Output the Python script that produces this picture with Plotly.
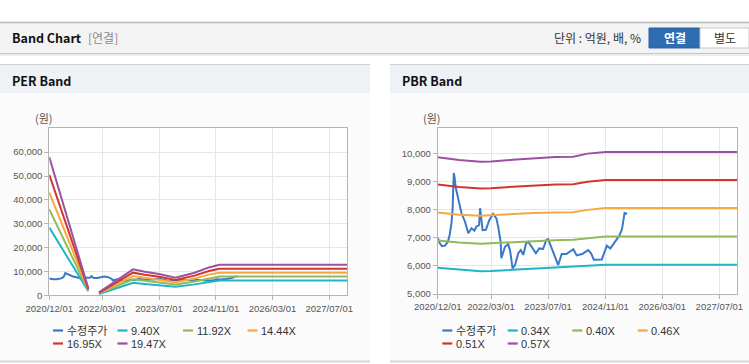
import plotly.graph_objects as go

W, H = 749, 364


def X(px):
    return px / W


def Y(py):
    return 1 - py / H


# ---------------- data ----------------
x_tick_vals = ['2020-12-01', '2022-03-01', '2023-07-01', '2024-11-01', '2026-03-01', '2027-07-01']
x_tick_text = ['2020/12/01', '2022/03/01', '2023/07/01', '2024/11/01', '2026/03/01', '2027/07/01']

price_name = '수정주가'
price_dates = ['2020-12-01', '2020-12-19', '2021-01-06', '2021-02-01', '2021-02-25', '2021-03-13', '2021-03-28',
               '2021-04-07', '2021-04-17', '2021-04-24', '2021-05-03', '2021-05-25', '2021-06-22', '2021-07-22',
               '2021-08-19', '2021-09-16', '2021-10-10', '2021-10-28', '2021-11-19', '2021-11-28', '2021-12-04',
               '2021-12-19', '2022-01-16', '2022-02-15', '2022-03-19', '2022-04-16', '2022-05-01', '2022-05-22',
               '2022-05-28', '2022-06-28', '2022-07-25', '2022-08-10', '2022-09-01', '2022-09-22', '2022-10-19',
               '2022-11-10', '2022-12-01', '2022-12-25', '2023-01-13', '2023-02-12', '2023-03-19', '2023-04-16',
               '2023-05-19', '2023-06-16', '2023-07-01', '2023-08-01', '2023-08-28', '2023-09-25', '2023-10-25',
               '2023-12-04', '2024-02-01', '2024-03-01', '2024-04-16', '2024-06-07', '2024-07-01', '2024-07-25',
               '2024-10-01', '2024-11-13', '2024-12-13', '2025-01-25', '2025-02-28', '2025-03-22', '2025-04-13',
               '2025-05-05']
price = [7000, 6800, 6700, 6720, 6850, 7100, 7500, 8000, 9300, 9150, 8800, 8340, 7870, 7570, 7160, 7340, 7250,
         7400, 7450, 8050, 7800, 7270, 7280, 7630, 7850, 7690, 7390, 6860, 6270, 6680, 6780, 6560, 5910, 6030,
         6450, 6560, 6390, 6800, 6860, 6660, 6450, 6620, 6600, 6920, 6950, 6620, 6330, 6030, 6420, 6420, 6590,
         6370, 6420, 6560, 6450, 6220, 6230, 6720, 6620, 6880, 7080, 7300, 7880, 7850]

per_names = ['9.40X', '11.92X', '14.44X', '16.95X', '19.47X']
per_dates = ['2020-12-01', '2021-11-01', '2021-12-15', '2022-02-01', '2022-11-20', '2023-03-01', '2023-07-01',
             '2023-11-20', '2024-05-01', '2024-09-01', '2024-12-01', '2027-12-01']
per_940 = [28400, 1700, None, 550, 5260, 4780, 4310, 3570, 4580, 5640, 6180, 6180]
per_1192 = [36000, 2000, None, 700, 6680, 6060, 5470, 4530, 5800, 7150, 7830, 7830]
per_1444 = [43100, 2300, None, 850, 8090, 7340, 6630, 5490, 7030, 8660, 9490, 9490]
per_1695 = [50500, 2600, None, 1000, 9490, 8610, 7780, 6440, 8250, 10170, 11140, 11140]
per_1947 = [57900, 2900, None, 1200, 10900, 9890, 8940, 7400, 9480, 11680, 12790, 12790]
per_ticks = [0, 10000, 20000, 30000, 40000, 50000, 60000]

pbr_names = ['0.34X', '0.40X', '0.46X', '0.51X', '0.57X']
pbr_dates = ['2020-12-01', '2021-06-01', '2021-12-01', '2022-03-01', '2022-09-01', '2023-03-01', '2023-09-01',
             '2024-02-01', '2024-06-01', '2024-11-01', '2027-12-01']
pbr_034 = [5930, 5860, 5810, 5820, 5860, 5900, 5930, 5950, 6000, 6040, 6040]
pbr_040 = [6900, 6830, 6790, 6810, 6850, 6890, 6910, 6930, 6990, 7040, 7040]
pbr_046 = [7900, 7820, 7780, 7800, 7850, 7880, 7900, 7910, 7990, 8060, 8060]
pbr_051 = [8890, 8800, 8750, 8760, 8810, 8860, 8890, 8900, 8990, 9050, 9050]
pbr_057 = [9860, 9760, 9700, 9710, 9770, 9830, 9870, 9880, 9990, 10050, 10050]
pbr_ticks = [5000, 6000, 7000, 8000, 9000, 10000]

assert len(price_dates) == len(price)

# ---------------- style ----------------
price_color = '#3a78c8'
band_colors = ['#1fb4c6', '#8fbb58', '#f6a93f', '#d1362c', '#9a52a0']
FONT = 'Liberation Sans, Noto Sans CJK KR, sans-serif'
CJK = 'Noto Sans CJK KR, Liberation Sans, sans-serif'

fig = go.Figure()


def add_line(x, y, color, name, xa, ya):
    fig.add_trace(go.Scatter(x=x, y=y, mode='lines', name=name, line=dict(color=color, width=2),
                             connectgaps=False, showlegend=False, xaxis=xa, yaxis=ya))


# PER chart
add_line(price_dates, price, price_color, price_name, 'x', 'y')
for nm, vals, c in zip(per_names, [per_940, per_1192, per_1444, per_1695, per_1947], band_colors):
    add_line(per_dates, vals, c, nm, 'x', 'y')

# PBR chart
add_line(price_dates, price, price_color, price_name, 'x2', 'y2')
for nm, vals, c in zip(pbr_names, [pbr_034, pbr_040, pbr_046, pbr_051, pbr_057], band_colors):
    add_line(pbr_dates, vals, c, nm, 'x2', 'y2')

axis_common = dict(showline=True, linecolor='#b4b4b4', linewidth=1, mirror=True, ticks='outside', ticklen=4,
                   tickcolor='#b4b4b4', showgrid=True, gridcolor='#e6e6e6', gridwidth=1, zeroline=False,
                   automargin=False, tickfont=dict(family=FONT, size=9.5, color='#555555'))

x_common = dict(type='date', range=['2020-12-01', '2027-12-01'], tickmode='array', tickvals=x_tick_vals,
                ticktext=x_tick_text, **axis_common)

fig.update_layout(
    width=W, height=H, margin=dict(l=0, r=0, t=0, b=0, pad=0, autoexpand=False),
    paper_bgcolor='white', plot_bgcolor='white',
    showlegend=False,
    xaxis=dict(domain=[X(49.3), X(347)], anchor='y', **x_common),
    yaxis=dict(domain=[Y(295.3), Y(128.3)], anchor='x', range=[0, 70000], tickmode='array', tickvals=per_ticks,
               tickformat=',', **axis_common),
    xaxis2=dict(domain=[X(437.7), X(737.3)], anchor='y2', **x_common),
    yaxis2=dict(domain=[Y(294), Y(128.3)], anchor='x2', range=[5000, 10890], tickmode='array',
                tickvals=pbr_ticks, tickformat=',', **axis_common),
)

shapes = []


def rect(x0, y0, x1, y1, fill, line=None, lw=0):
    shapes.append(dict(type='rect', xref='paper', yref='paper', x0=X(x0), x1=X(x1), y0=Y(y1), y1=Y(y0),
                       fillcolor=fill, line=dict(color=line or fill, width=lw), layer='below'))


def hline(x0, x1, y, color, w):
    shapes.append(dict(type='line', xref='paper', yref='paper', x0=X(x0), x1=X(x1), y0=Y(y), y1=Y(y),
                       line=dict(color=color, width=w), layer='below'))


# top header bar
rect(0, 23, 749, 53, '#f3f3f3')
hline(0, 749, 22.5, '#b9b9b9', 1.5)
hline(0, 749, 53.5, '#c6c6c6', 1.2)
hline(0, 749, 55, '#e6e6e6', 1.5)
# buttons
rect(649, 28, 700, 48, '#2f6db3', '#2a63a5', 1)
rect(700, 28, 749, 48, '#ffffff', '#c8c8c8', 1)

# panels
for px0, px1 in [(0, 370), (390, 749)]:
    rect(px0, 64, px1, 362, '#fbfbfb')
    rect(px0, 64, px1, 93, '#eef2f7')
    hline(px0, px1, 64.5, '#d0d0d0', 1.2)
    hline(px0, px1, 361.5, '#d6d6d6', 2)

# plot area backgrounds
rect(49.3, 128.3, 347, 295.3, '#ffffff')
rect(437.7, 128.3, 737.3, 294, '#ffffff')

annotations = []


def text(x, y, s, size, color, anchor='left', family=FONT, bold=False):
    annotations.append(dict(xref='paper', yref='paper', x=X(x), y=Y(y), text=('<b>%s</b>' % s) if bold else s,
                            showarrow=False, xanchor=anchor, yanchor='middle',
                            font=dict(family=family, size=size, color=color)))


text(10, 38, 'Band Chart', 12.5, '#111111', family=CJK, bold=True)
text(86, 38, '[연결]', 12, '#8a8a8a', family=CJK)
text(643, 38, '단위 : 억원, 배, %', 12, '#333333', anchor='right', family=CJK)
text(674.5, 38, '연결', 12, '#ffffff', anchor='center', family=CJK, bold=True)
text(724.5, 38, '별도', 12, '#333333', anchor='center', family=CJK)
text(10, 80, 'PER Band', 12.5, '#111111', family=CJK, bold=True)
text(400, 80, 'PBR Band', 12.5, '#111111', family=CJK, bold=True)
text(44, 118, '(원)', 11, '#555555', anchor='center', family=CJK)
text(432, 118, '(원)', 11, '#555555', anchor='center', family=CJK)

# legends (manual, laid out in 4 columns x 2 rows)
legend_cols = {'left': [53, 117.5, 183, 247.5], 'right': [442.3, 507.7, 572.3, 637.7]}
legend_rows = [330.5, 343.5]
for side, names in [('left', [price_name] + per_names), ('right', [price_name] + pbr_names)]:
    colors = [price_color] + band_colors
    for i, (nm, c) in enumerate(zip(names, colors)):
        col, row = i % 4, i // 4
        x0 = legend_cols[side][col]
        y0 = legend_rows[row]
        shapes.append(dict(type='line', xref='paper', yref='paper', x0=X(x0), x1=X(x0 + 10), y0=Y(y0), y1=Y(y0),
                           line=dict(color=c, width=2.2)))
        text(x0 + 11.5, y0, nm, 11, '#333333')

fig.update_layout(shapes=shapes, annotations=annotations)
fig.write_html('out.html', config={'displayModeBar': False},
               post_script="document.body.style.margin='0';document.body.style.overflow='hidden';")
